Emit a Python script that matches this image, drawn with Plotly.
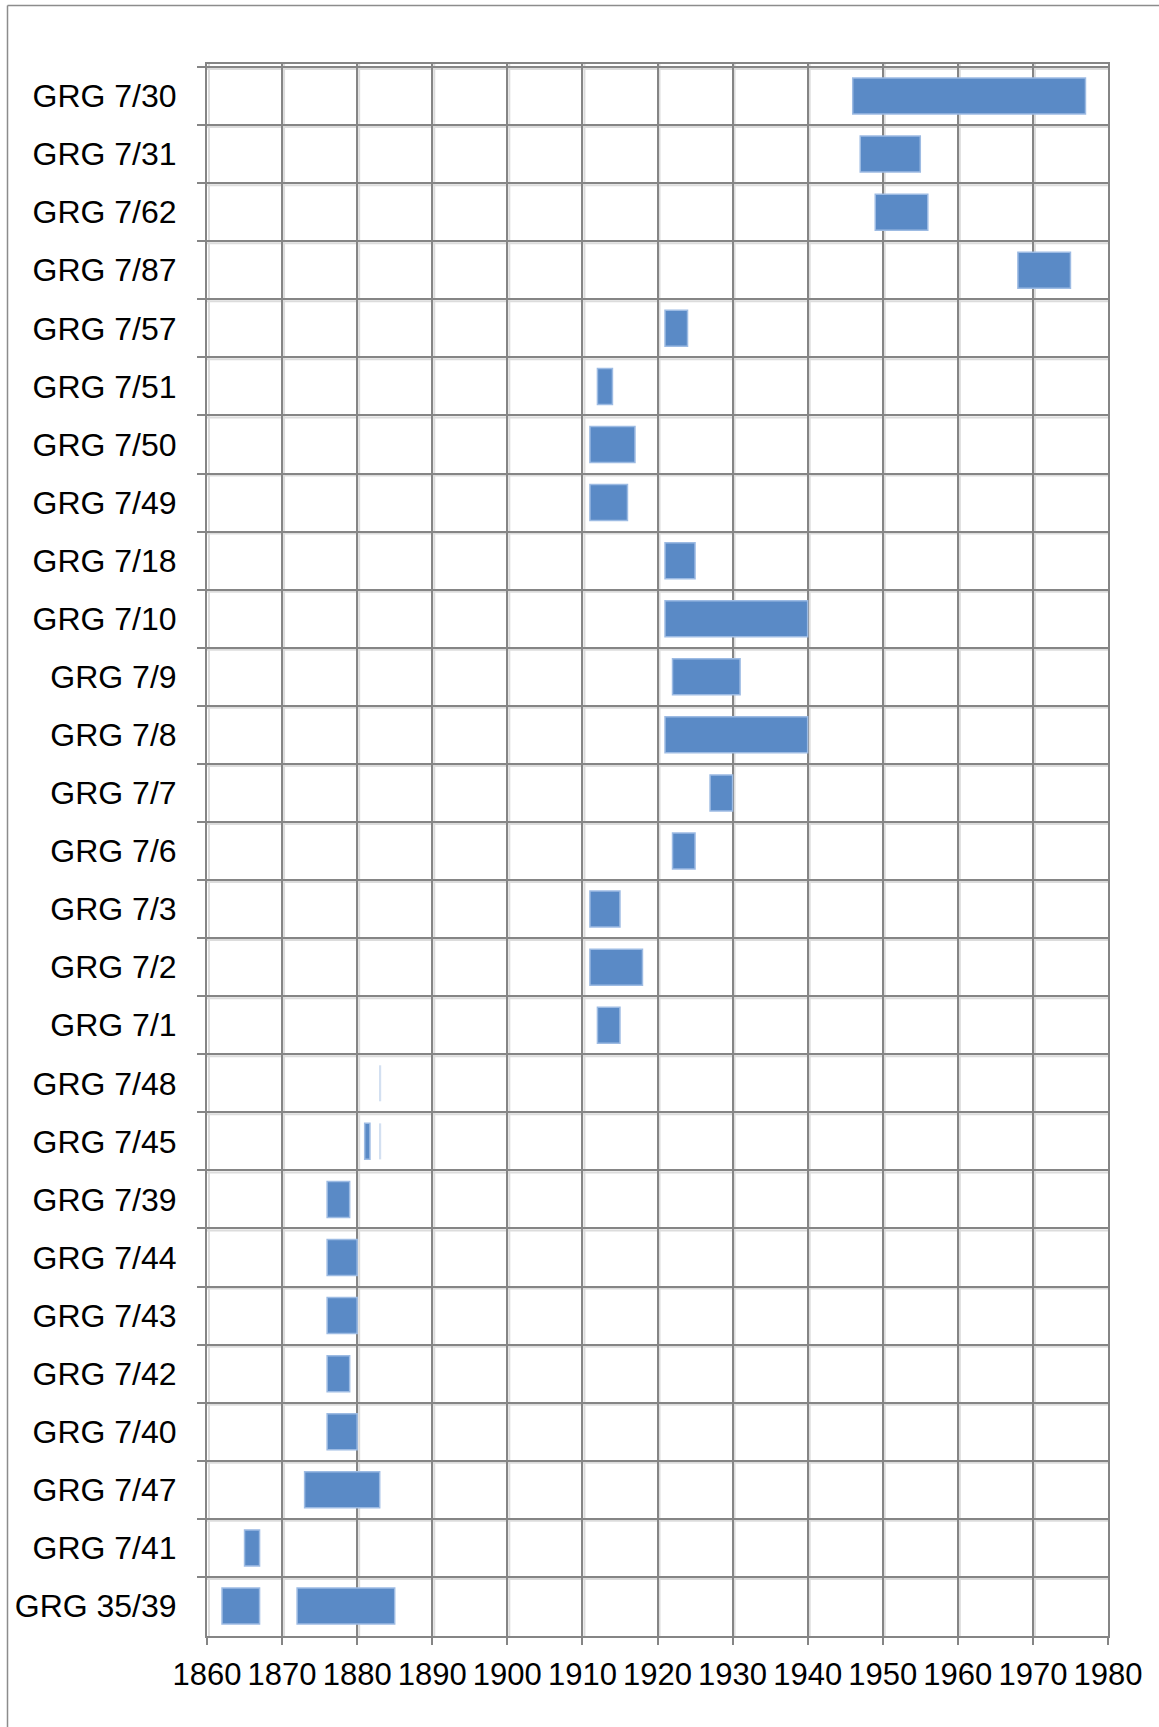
import plotly.graph_objects as go

# Categories, top to bottom
categories = ["GRG 7/30", "GRG 7/31", "GRG 7/62", "GRG 7/87", "GRG 7/57", "GRG 7/51",
              "GRG 7/50", "GRG 7/49", "GRG 7/18", "GRG 7/10", "GRG 7/9", "GRG 7/8",
              "GRG 7/7", "GRG 7/6", "GRG 7/3", "GRG 7/2", "GRG 7/1", "GRG 7/48",
              "GRG 7/45", "GRG 7/39", "GRG 7/44", "GRG 7/43", "GRG 7/42", "GRG 7/40",
              "GRG 7/47", "GRG 7/41", "GRG 35/39"]
# main date range (first segment)
start_1 = [1946, 1947, 1949, 1968, 1921, 1912, 1911, 1911, 1921, 1921, 1922, 1921,
           1927, 1922, 1911, 1911, 1912, None, 1881, 1876, 1876, 1876, 1876, 1876,
           1873, 1865, 1862]
end_1 = [1977, 1955, 1956, 1975, 1924, 1914, 1917, 1916, 1925, 1940, 1931, 1940,
         1930, 1925, 1915, 1918, 1915, None, 1881.7, 1879, 1880, 1880, 1879, 1880,
         1883, 1867, 1867]
# second segment
seg2_categories = ["GRG 35/39"]
start_2 = [1872]
end_2 = [1885]
# faint single-date markers
faint_categories = ["GRG 7/48", "GRG 7/45"]
faint_start = [1883.0, 1883.0]
faint_end = [1883.2, 1883.2]

x_ticks = [1860, 1870, 1880, 1890, 1900, 1910, 1920, 1930, 1940, 1950, 1960, 1970, 1980]

BAR = "#5a8ac6"
EDGE = "#9dbbe3"
GRID = "#858585"
SHADOW = "#dcdcdc"

fig = go.Figure()

cats1 = [c for c, s in zip(categories, start_1) if s is not None]
s1 = [s for s in start_1 if s is not None]
d1 = [e - s for s, e in zip(start_1, end_1) if s is not None]

fig.add_trace(go.Bar(y=cats1, x=d1, base=s1, orientation="h", width=0.62,
                     marker=dict(color=BAR, line=dict(color=EDGE, width=1.5)),
                     showlegend=False))
fig.add_trace(go.Bar(y=seg2_categories, x=[e - s for s, e in zip(start_2, end_2)], base=start_2,
                     orientation="h", width=0.62,
                     marker=dict(color=BAR, line=dict(color=EDGE, width=1.5)),
                     showlegend=False))
fig.add_trace(go.Bar(y=faint_categories, x=[e - s for s, e in zip(faint_start, faint_end)],
                     base=faint_start, orientation="h", width=0.62,
                     marker=dict(color="#d3e0f1", line=dict(width=0)),
                     showlegend=False))

# Light "shadow" lines next to gridlines (Excel style)
shapes = []
for v in x_ticks:
    shapes.append(dict(type="line", xref="x", yref="paper", xsizemode="pixel", xanchor=v,
                       x0=2, x1=2, y0=0, y1=1, line=dict(color=SHADOW, width=2), layer="below"))
for i in range(len(categories) + 1):
    shapes.append(dict(type="line", xref="paper", yref="y", ysizemode="pixel", yanchor=i - 0.5,
                       y0=-2, y1=-2, x0=0, x1=1, line=dict(color=SHADOW, width=2), layer="below"))

# Outer chart frame (partially visible)
W, H = 1159, 1727
L, R, T, B = 207, 51, 64, 91
pw, ph = W - L - R, H - T - B
def px(x):
    return (x - L) / pw
def py(y):
    return (H - B - y) / ph
shapes.append(dict(type="line", xref="paper", yref="paper", x0=px(7.5), x1=px(1165),
                   y0=py(5.5), y1=py(5.5), line=dict(color="#8c8c8c", width=1.5)))
shapes.append(dict(type="line", xref="paper", yref="paper", x0=px(7.5), x1=px(7.5),
                   y0=py(5.5), y1=py(1735), line=dict(color="#8c8c8c", width=1.5)))

fig.update_layout(
    width=W, height=H,
    margin=dict(l=L, r=R, t=T, b=B),
    paper_bgcolor="white", plot_bgcolor="white",
    font=dict(family="Liberation Sans, Arial, sans-serif", size=30, color="black"),
    barmode="overlay",
    shapes=shapes,
    xaxis=dict(range=[1860, 1980], tickvals=x_ticks, ticktext=[str(t) for t in x_ticks],
               showgrid=True, gridcolor=GRID, gridwidth=2,
               showline=True, linecolor=GRID, linewidth=2, mirror=True,
               ticks="outside", ticklen=7, tickwidth=2, tickcolor=GRID,
               tickfont=dict(size=31, color="black"), ticklabelstandoff=3, zeroline=False),
    yaxis=dict(type="category", categoryorder="array", categoryarray=categories,
               autorange="reversed", tickson="boundaries",
               showgrid=True, gridcolor=GRID, gridwidth=2,
               showline=True, linecolor=GRID, linewidth=2, mirror=True,
               ticks="outside", ticklen=8, tickwidth=2, tickcolor=GRID,
               tickfont=dict(size=32, color="black"), ticklabelstandoff=22),
)

fig.write_html("out.html", config={"displayModeBar": False},
               post_script="document.body.style.margin='0';")
